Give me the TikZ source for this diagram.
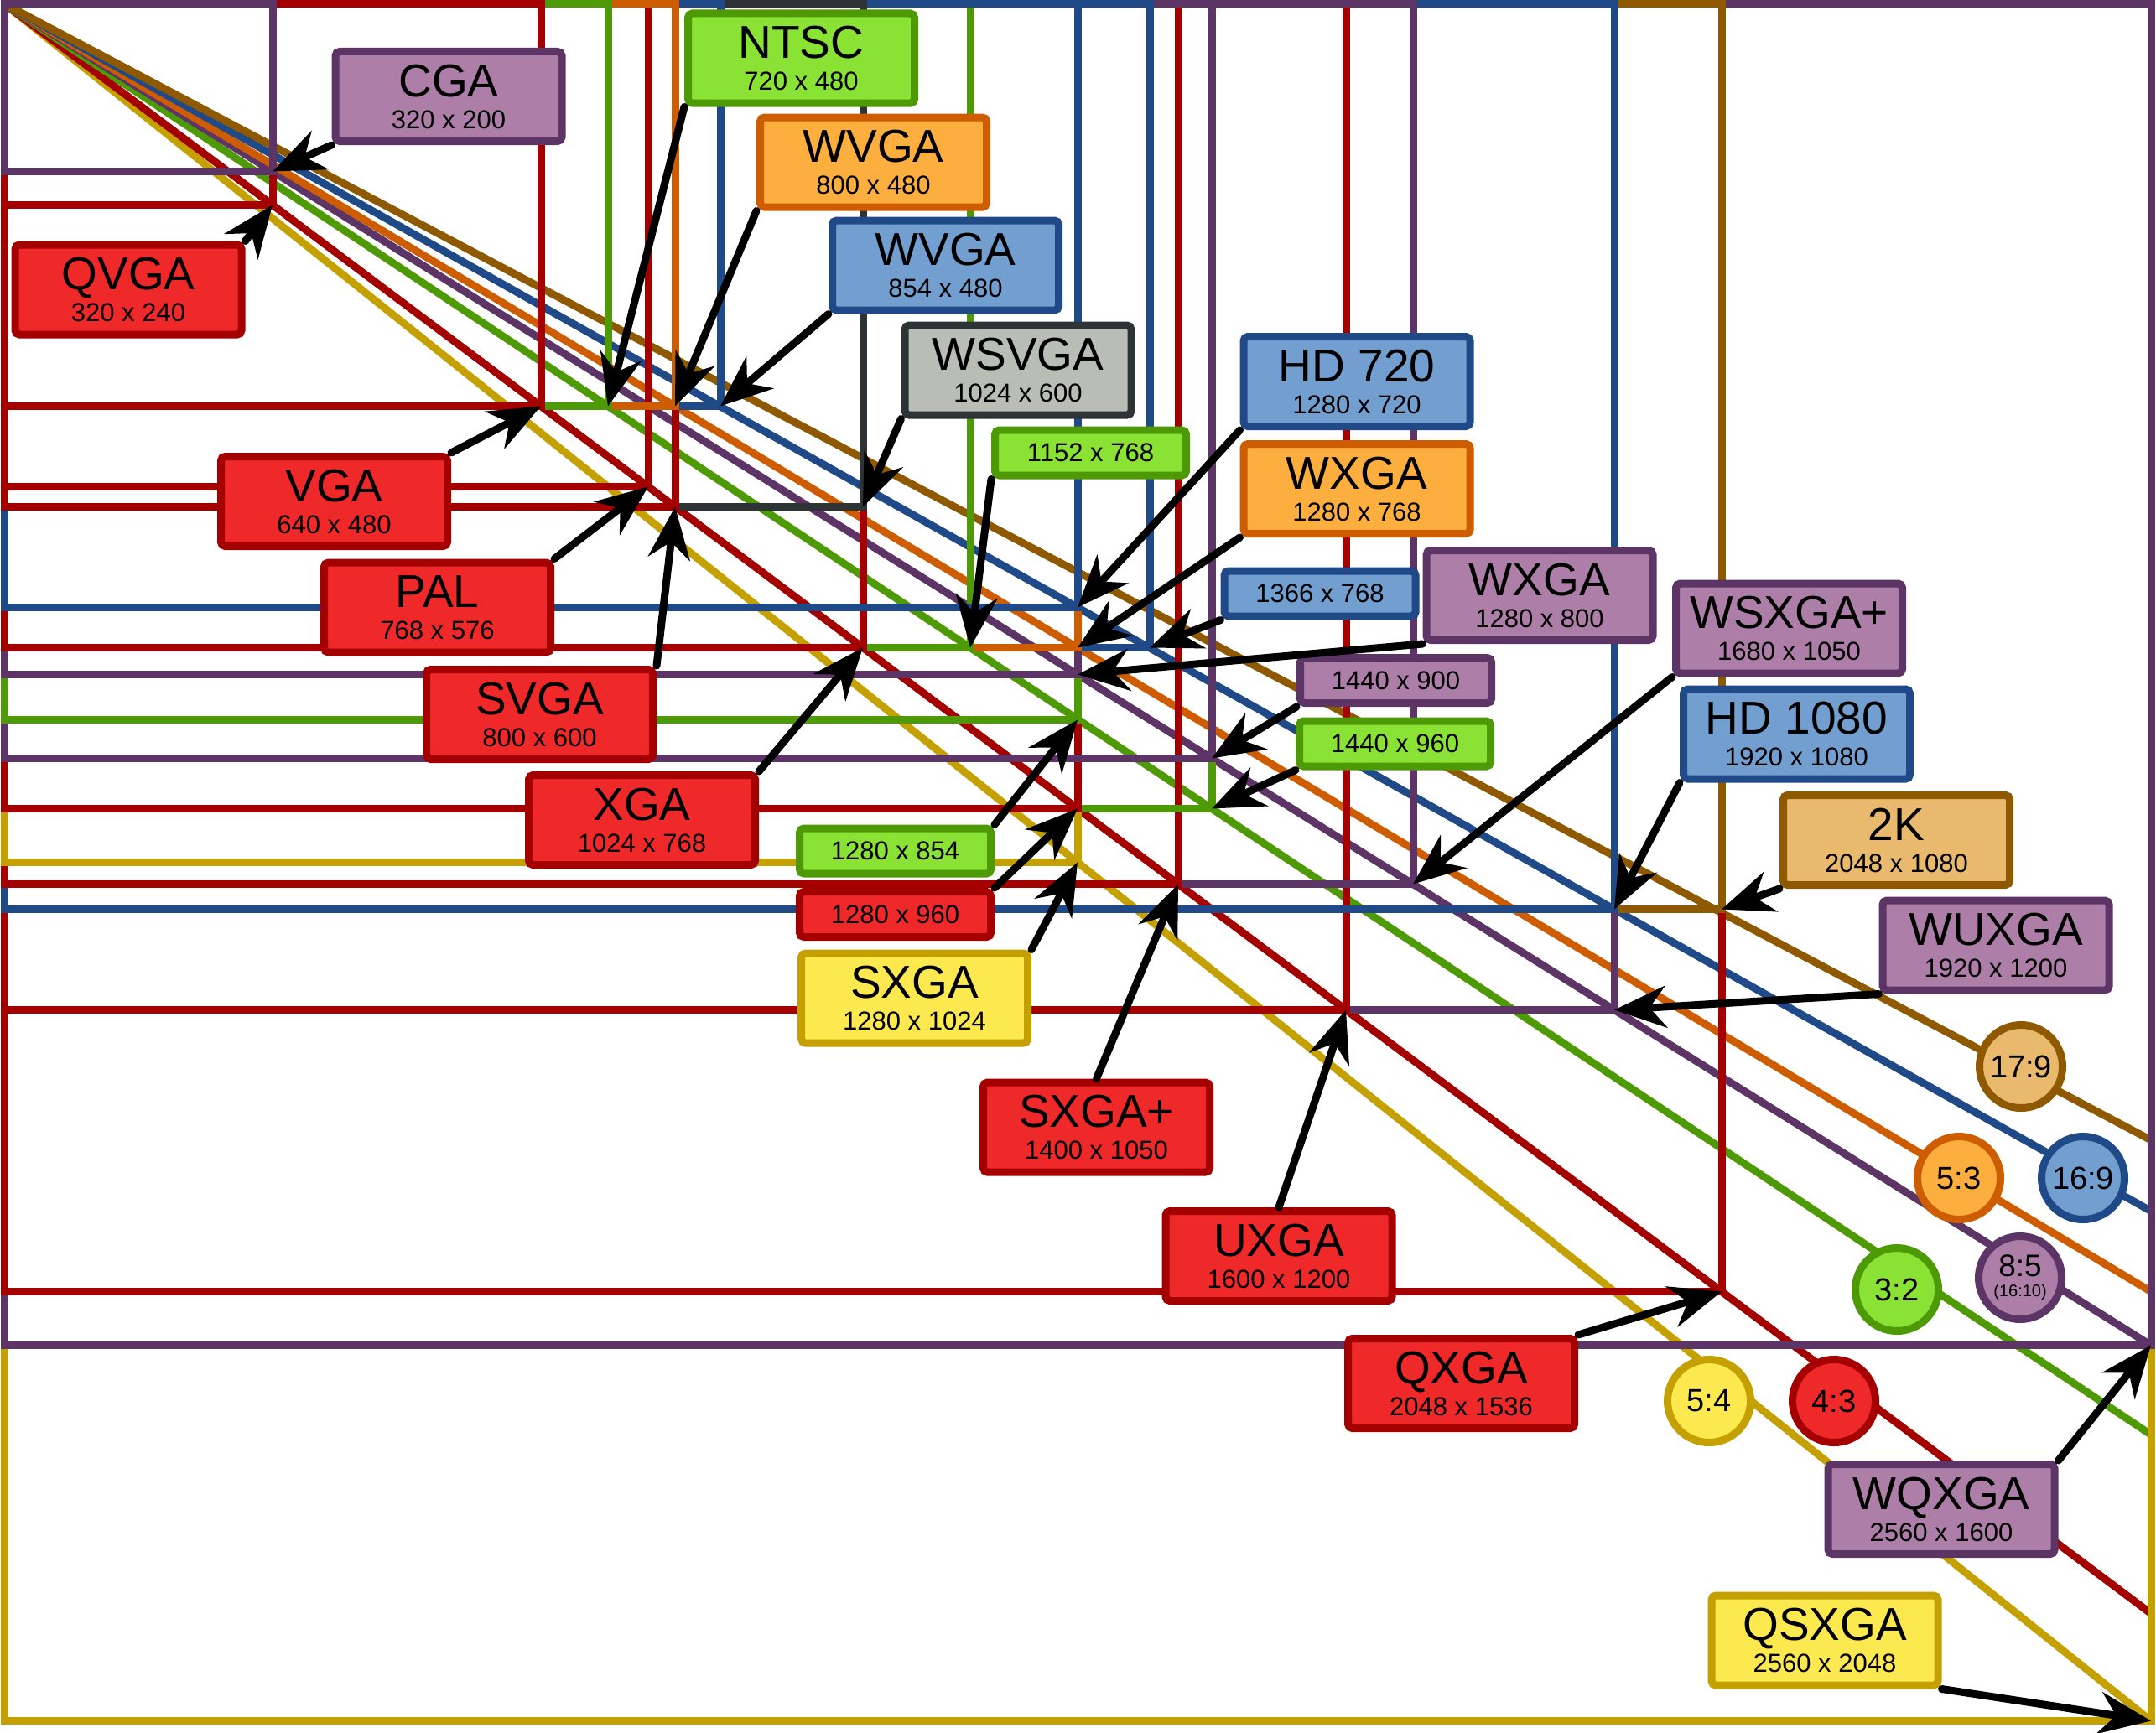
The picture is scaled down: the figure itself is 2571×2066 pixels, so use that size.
\documentclass[tikz,border=0pt]{standalone}
\usepackage{fontspec}
\setmainfont{Liberation Sans}
\usetikzlibrary{arrows.meta}
\definecolor{redD}{HTML}{A40000}\definecolor{redL}{HTML}{EF2929}
\definecolor{purD}{HTML}{5C3566}\definecolor{purL}{HTML}{AD7FA8}
\definecolor{grnD}{HTML}{4E9A06}\definecolor{grnL}{HTML}{8AE234}
\definecolor{orgD}{HTML}{CE5C00}\definecolor{orgL}{HTML}{FCAF3E}
\definecolor{bluD}{HTML}{204A87}\definecolor{bluL}{HTML}{729FCF}
\definecolor{gryD}{HTML}{2E3436}\definecolor{gryL}{HTML}{BABDB6}
\definecolor{yelD}{HTML}{C4A000}\definecolor{yelL}{HTML}{FCE94F}
\definecolor{brnD}{HTML}{8F5902}\definecolor{brnL}{HTML}{E9B96E}
\newcommand\bigname{\fontsize{55}{38}\selectfont}
\tikzset{
  resrect/.style={draw=#1D, line width=9pt, line join=miter},
  aspectln/.style={draw=#1D, line width=9pt},
  bigbox/.style={draw=#1D, fill=#1L, line width=9pt, rounded corners=5pt,
    minimum width=270pt, minimum height=107pt, inner sep=0pt, align=center,
    font=\fontsize{31}{38}\selectfont},
  smallbox/.style={draw=#1D, fill=#1L, line width=9pt, rounded corners=5pt,
    minimum width=228pt, minimum height=54pt, inner sep=0pt,
    font=\fontsize{31}{31}\selectfont},
  ratiodisk/.style={circle, draw=#1D, fill=#1L, line width=9pt,
    minimum size=99pt, inner sep=0pt, font=\fontsize{38}{38}\selectfont},
  pointer/.style={draw=black, line width=9pt, line cap=round,
    -{Stealth[length=62pt, width=50pt, inset=20pt]}},
}
\begin{document}
\begin{tikzpicture}[x=1pt, y=-1pt]
\useasboundingbox (0,0) rectangle (2571,2066);
\begin{scope}[shift={(5,4.5)}]
  % aspect ratio lines
  \draw[aspectln=yel] (0,0) -- (2560,2048);
  \draw[aspectln=red] (0,0) -- (2560,1920);
  \draw[aspectln=grn] (0,0) -- (2560,1706.67);
  \draw[aspectln=pur] (0,0) -- (2560,1600);
  \draw[aspectln=org] (0,0) -- (2560,1536);
  \draw[aspectln=blu] (0,0) -- (2560,1440);
  \draw[aspectln=brn] (0,0) -- (2560,1355.29);
  % resolution rectangles
  \draw[resrect=yel] (0,0) rectangle (2560,2048);
  \draw[resrect=pur] (0,0) rectangle (2560,1600);
  \draw[resrect=red] (0,0) rectangle (2048,1536);
  \draw[resrect=pur] (0,0) rectangle (1920,1200);
  \draw[resrect=red] (0,0) rectangle (1600,1200);
  \draw[resrect=brn] (0,0) rectangle (2048,1080);
  \draw[resrect=blu] (0,0) rectangle (1920,1080);
  \draw[resrect=pur] (0,0) rectangle (1680,1050);
  \draw[resrect=red] (0,0) rectangle (1400,1050);
  \draw[resrect=yel] (0,0) rectangle (1280,1024);
  \draw[resrect=grn] (0,0) rectangle (1440,960);
  \draw[resrect=red] (0,0) rectangle (1280,960);
  \draw[resrect=pur] (0,0) rectangle (1440,900);
  \draw[resrect=grn] (0,0) rectangle (1280,854);
  \draw[resrect=pur] (0,0) rectangle (1280,800);
  \draw[resrect=blu] (0,0) rectangle (1366,768);
  \draw[resrect=org] (0,0) rectangle (1280,768);
  \draw[resrect=grn] (0,0) rectangle (1152,768);
  \draw[resrect=red] (0,0) rectangle (1024,768);
  \draw[resrect=blu] (0,0) rectangle (1280,720);
  \draw[resrect=gry] (0,0) rectangle (1024,600);
  \draw[resrect=red] (0,0) rectangle (800,600);
  \draw[resrect=red] (0,0) rectangle (768,576);
  \draw[resrect=blu] (0,0) rectangle (854,480);
  \draw[resrect=org] (0,0) rectangle (800,480);
  \draw[resrect=grn] (0,0) rectangle (720,480);
  \draw[resrect=red] (0,0) rectangle (640,480);
  \draw[resrect=red] (0,0) rectangle (320,240);
  \draw[resrect=pur] (0,0) rectangle (320,200);
  % corners
  \coordinate (c320x200) at (320,200);
  \coordinate (c320x240) at (320,240);
  \coordinate (c640x480) at (640,480);
  \coordinate (c720x480) at (720,480);
  \coordinate (c800x480) at (800,480);
  \coordinate (c854x480) at (854,480);
  \coordinate (c768x576) at (768,576);
  \coordinate (c800x600) at (800,600);
  \coordinate (c1024x600) at (1024,600);
  \coordinate (c1024x768) at (1024,768);
  \coordinate (c1152x768) at (1152,768);
  \coordinate (c1280x720) at (1280,720);
  \coordinate (c1280x768) at (1280,768);
  \coordinate (c1366x768) at (1366,768);
  \coordinate (c1280x800) at (1280,800);
  \coordinate (c1280x854) at (1280,854);
  \coordinate (c1440x900) at (1440,900);
  \coordinate (c1280x960) at (1280,960);
  \coordinate (c1440x960) at (1440,960);
  \coordinate (c1280x1024) at (1280,1024);
  \coordinate (c1400x1050) at (1400,1050);
  \coordinate (c1680x1050) at (1680,1050);
  \coordinate (c1920x1080) at (1920,1080);
  \coordinate (c2048x1080) at (2048,1080);
  \coordinate (c1600x1200) at (1600,1200);
  \coordinate (c1920x1200) at (1920,1200);
  \coordinate (c2048x1536) at (2048,1536);
  \coordinate (c2560x1600) at (2560,1600);
  \coordinate (c2560x2048) at (2560,2048);
\end{scope}
% aspect ratio disks
\node[ratiodisk=brn] (r17x9) at (2410,1272) {17:9};
\node[ratiodisk=blu] (r16x9) at (2484,1405) {16:9};
\node[ratiodisk=org] (r5x3) at (2336,1405) {5:3};
\node[ratiodisk=pur, align=center, font=\fontsize{20}{24}\selectfont] (r8x5) at (2409,1524) {{\fontsize{37}{24}\selectfont 8:5}\\(16:10)};
\node[ratiodisk=grn] (r3x2) at (2262,1538) {3:2};
\node[ratiodisk=red] (r4x3) at (2187,1671) {4:3};
\node[ratiodisk=yel] (r5x4) at (2038,1671) {5:4};
% labels
\node[bigbox=pur] (cga) at (535,115) {{\bigname CGA}\\320 x 200};
\node[bigbox=red] (qvga) at (153,345.5) {{\bigname QVGA}\\320 x 240};
\node[bigbox=grn] (ntsc) at (955.5,69.5) {{\bigname NTSC}\\720 x 480};
\node[bigbox=org] (wvgaA) at (1041.5,193.5) {{\bigname WVGA}\\800 x 480};
\node[bigbox=blu] (wvgaB) at (1127.5,316.5) {{\bigname WVGA}\\854 x 480};
\node[bigbox=gry] (wsvga) at (1214,441.5) {{\bigname WSVGA}\\1024 x 600};
\node[bigbox=blu] (hd720) at (1618,455) {{\bigname HD 720}\\1280 x 720};
\node[bigbox=org] (wxgaA) at (1618,583) {{\bigname WXGA}\\1280 x 768};
\node[bigbox=pur] (wxgaB) at (1836,710) {{\bigname WXGA}\\1280 x 800};
\node[bigbox=pur] (wsxga) at (2133.5,749.5) {{\bigname WSXGA+}\\1680 x 1050};
\node[bigbox=blu] (hd1080) at (2142.5,875.5) {{\bigname HD 1080}\\1920 x 1080};
\node[bigbox=brn] (k2) at (2261.5,1002) {{\bigname 2K}\\2048 x 1080};
\node[bigbox=pur] (wuxga) at (2380,1127.5) {{\bigname WUXGA}\\1920 x 1200};
\node[bigbox=red] (vga) at (398.5,598) {{\bigname VGA}\\640 x 480};
\node[bigbox=red] (pal) at (521.5,724.5) {{\bigname PAL}\\768 x 576};
\node[bigbox=red] (svga) at (643.5,852) {{\bigname SVGA}\\800 x 600};
\node[bigbox=red] (xga) at (765.5,978) {{\bigname XGA}\\1024 x 768};
\node[bigbox=yel] (sxga) at (1090.5,1190.5) {{\bigname SXGA}\\1280 x 1024};
\node[bigbox=red] (sxgap) at (1307.5,1344.5) {{\bigname SXGA+}\\1400 x 1050};
\node[bigbox=red] (uxga) at (1525,1498) {{\bigname UXGA}\\1600 x 1200};
\node[bigbox=red] (qxga) at (1742.5,1650) {{\bigname QXGA}\\2048 x 1536};
\node[bigbox=pur] (wqxga) at (2315,1800) {{\bigname WQXGA}\\2560 x 1600};
\node[bigbox=yel] (qsxga) at (2176,1956.5) {{\bigname QSXGA}\\2560 x 2048};
\node[smallbox=grn] (b1152) at (1300.5,540) {1152 x 768};
\node[smallbox=blu] (b1366) at (1574,708) {1366 x 768};
\node[smallbox=pur] (b900) at (1664.5,811.5) {1440 x 900};
\node[smallbox=grn] (b960w) at (1663.5,887) {1440 x 960};
\node[smallbox=grn] (b854) at (1067.5,1015) {1280 x 854};
\node[smallbox=red] (b960) at (1067.5,1090.5) {1280 x 960};
% pointers
\draw[pointer] (cga.south west) -- (c320x200);
\draw[pointer] (qvga.north east) -- (c320x240);
\draw[pointer] (ntsc.south west) -- (c720x480);
\draw[pointer] (wvgaA.south west) -- (c800x480);
\draw[pointer] (wvgaB.south west) -- (c854x480);
\draw[pointer] (wsvga.south west) -- (c1024x600);
\draw[pointer] (b1152.south west) -- (c1152x768);
\draw[pointer] (hd720.south west) -- (c1280x720);
\draw[pointer] (wxgaA.south west) -- (c1280x768);
\draw[pointer] (b1366.south west) -- (c1366x768);
\draw[pointer] (wxgaB.south west) -- (c1280x800);
\draw[pointer] (b900.south west) -- (c1440x900);
\draw[pointer] (b960w.south west) -- (c1440x960);
\draw[pointer] (wsxga.south west) -- (c1680x1050);
\draw[pointer] (hd1080.south west) -- (c1920x1080);
\draw[pointer] (k2.south west) -- (c2048x1080);
\draw[pointer] (wuxga.south west) -- (c1920x1200);
\draw[pointer] (vga.north east) -- (c640x480);
\draw[pointer] (pal.north east) -- (c768x576);
\draw[pointer] (svga.north east) -- (c800x600);
\draw[pointer] (xga.north east) -- (c1024x768);
\draw[pointer] (b854.north east) -- (c1280x854);
\draw[pointer] (b960.north east) -- (c1280x960);
\draw[pointer] (sxga.north east) -- (c1280x1024);
\draw[pointer] (sxgap.north) -- (c1400x1050);
\draw[pointer] (uxga.north) -- (c1600x1200);
\draw[pointer] (qxga.north east) -- (c2048x1536);
\draw[pointer] (wqxga.north east) -- (c2560x1600);
\draw[pointer] (qsxga.south east) -- (c2560x2048);
\end{tikzpicture}
\end{document}
